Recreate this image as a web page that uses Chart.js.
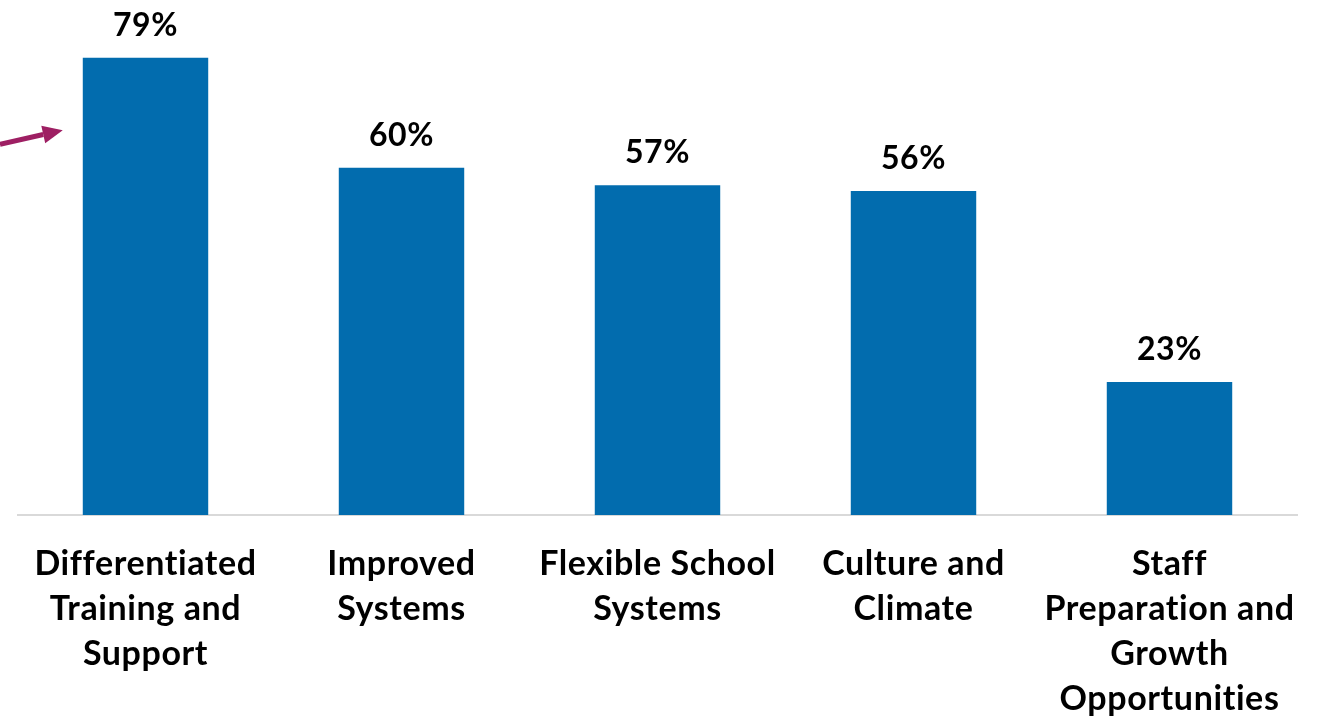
<!DOCTYPE html>
<html>
<head>
<meta charset="utf-8">
<script src="https://cdn.jsdelivr.net/npm/chart.js@4.4.1/dist/chart.umd.min.js"></script>
<style>
  html, body { margin: 0; padding: 0; background: #fff; }
  #wrap { width: 1317px; height: 718px; position: relative; }
</style>
</head>
<body>
<div id="wrap"><canvas id="barChart"></canvas></div>
<script>
// data
const categories = [
  ['Differentiated', 'Training and', 'Support'],
  ['Improved', 'Systems'],
  ['Flexible School', 'Systems'],
  ['Culture and', 'Climate'],
  ['Staff', 'Preparation and', 'Growth', 'Opportunities']
];
const percentValues = [79, 60, 57, 56, 23];

const barColor = '#026CAE';
const arrowColor = '#9E1F63';
const fontFamily = 'Lato, "Open Sans", sans-serif';

// small letter spacing keeps Lato from joining ff / ti
const textTweaks = {
  id: 'textTweaks',
  beforeDraw(chart) { chart.ctx.letterSpacing = '0.6px'; }
};

// value labels above each bar
const valueLabels = {
  id: 'valueLabels',
  afterDatasetsDraw(chart) {
    const ctx = chart.ctx;
    const meta = chart.getDatasetMeta(0);
    ctx.save();
    ctx.font = `bold 32px ${fontFamily}`;
    ctx.fillStyle = '#000';
    ctx.textAlign = 'center';
    ctx.textBaseline = 'middle';
    meta.data.forEach((bar, i) => {
      ctx.fillText(percentValues[i] + '%', bar.x, bar.y - 32);
    });
    ctx.restore();
  }
};

// arrow pointing at first bar
const pointerArrow = {
  id: 'pointerArrow',
  afterDraw(chart) {
    const ctx = chart.ctx;
    const bar = chart.getDatasetMeta(0).data[0];
    const tipX = bar.x - bar.width / 2 - 20;
    const tipY = chart.scales.y.getPixelForValue(66.5);
    const startX = 0, startY = tipY + 14;
    const ang = Math.atan2(tipY - startY, tipX - startX);
    const headLen = 20, headW = 9;
    const baseX = tipX - headLen * Math.cos(ang), baseY = tipY - headLen * Math.sin(ang);
    ctx.save();
    ctx.strokeStyle = arrowColor;
    ctx.fillStyle = arrowColor;
    ctx.lineWidth = 5;
    ctx.beginPath();
    ctx.moveTo(startX, startY);
    ctx.lineTo(baseX, baseY);
    ctx.stroke();
    ctx.beginPath();
    ctx.moveTo(tipX, tipY);
    ctx.lineTo(baseX + headW * Math.sin(ang), baseY - headW * Math.cos(ang));
    ctx.lineTo(baseX - headW * Math.sin(ang), baseY + headW * Math.cos(ang));
    ctx.closePath();
    ctx.fill();
    ctx.restore();
  }
};

const ctx = document.getElementById('barChart').getContext('2d');
new Chart(ctx, {
  type: 'bar',
  data: {
    labels: categories,
    datasets: [{
      data: percentValues,
      backgroundColor: barColor,
      borderWidth: 0,
      barPercentage: 0.49,
      categoryPercentage: 1
    }]
  },
  options: {
    responsive: true,
    maintainAspectRatio: false,
    animation: false,
    layout: { padding: { left: 17.5, right: 19.5, top: 0, bottom: 0 } },
    plugins: { legend: { display: false }, tooltip: { enabled: false } },
    scales: {
      y: {
        display: false,
        min: 0,
        max: 89
      },
      x: {
        grid: { display: false },
        border: { display: true, color: '#D9D9D9', width: 2 },
        ticks: {
          color: '#000',
          font: { family: fontFamily, weight: 'bold', size: 34, lineHeight: 1.32 },
          padding: 19,
          maxRotation: 0,
          autoSkip: false
        },
        afterFit(scale) { scale.height = 203; }
      }
    }
  },
  plugins: [textTweaks, valueLabels, pointerArrow]
});
</script>
</body>
</html>
